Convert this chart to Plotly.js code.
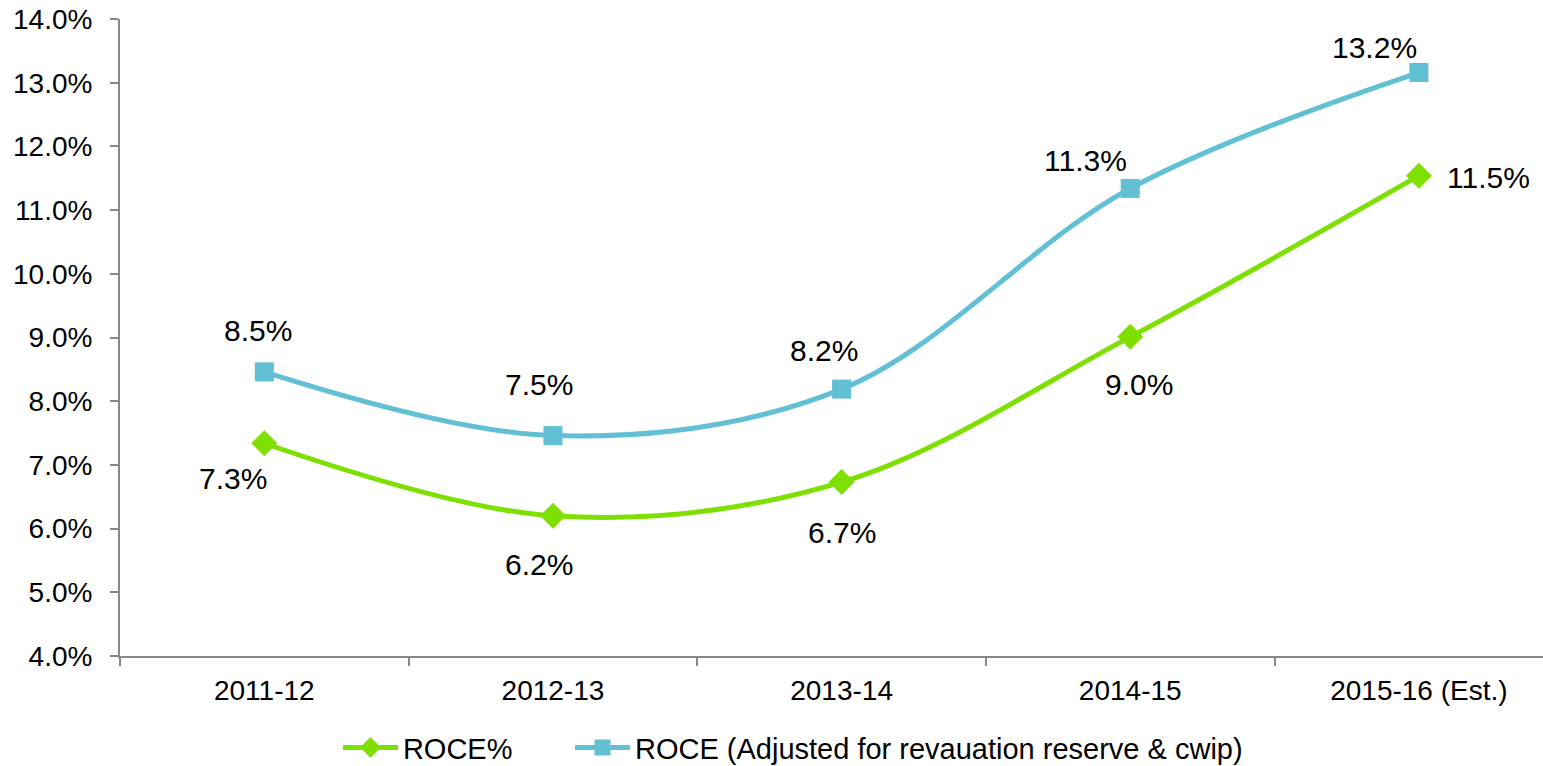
<!DOCTYPE html>
<html>
<head>
<meta charset="utf-8">
<script src="https://cdn.plot.ly/plotly-3.0.1.min.js"></script>
<style>
html,body{margin:0;padding:0;background:#fff;}
#chart{width:1543px;height:766px;}
</style>
</head>
<body>
<div id="chart"></div>
<script>
const categories = ['2011-12', '2012-13', '2013-14', '2014-15', '2015-16 (Est.)'];
const roce = [7.34, 6.20, 6.73, 9.01, 11.54];
const roceAdjusted = [8.46, 7.46, 8.19, 11.34, 13.16];
const seriesNames = ['ROCE%', 'ROCE (Adjusted for revauation reserve & cwip)'];
const yTicks = [4, 5, 6, 7, 8, 9, 10, 11, 12, 13, 14];
const yTickText = yTicks.map(v => v.toFixed(1) + '%');

// label offsets (px) relative to the point
const roceLabelShift = [[-31, -35], [-14, -49], [0, -50], [9, -48], [70, -2]];
const adjLabelShift = [[-6, 41], [-14, 51], [-18, 39], [-45, 28], [-44, 25]];

const green = '#7ee000';
const blue = '#62c0d4';
const FONT = 'Liberation Sans, Arial, sans-serif';

const traces = [
  {
    x: categories, y: roce, name: seriesNames[0], type: 'scatter', mode: 'lines+markers',
    line: {color: green, width: 5, shape: 'spline', smoothing: 1},
    marker: {symbol: 'diamond', size: 20, color: green},
    legend: 'legend'
  },
  {
    x: categories, y: roceAdjusted, name: seriesNames[1], type: 'scatter', mode: 'lines+markers',
    line: {color: blue, width: 5, shape: 'spline', smoothing: 1},
    marker: {symbol: 'square', size: 19, color: blue},
    legend: 'legend2'
  }
];

const annotations = [];
function addLabels(vals, shifts) {
  vals.forEach((v, i) => {
    annotations.push({
      x: categories[i], y: v, xref: 'x', yref: 'y',
      text: v.toFixed(1) + '%', showarrow: false,
      xshift: shifts[i][0], yshift: shifts[i][1],
      font: {family: FONT, size: 30, color: '#000'}
    });
  });
}
addLabels(roce, roceLabelShift);
addLabels(roceAdjusted, adjLabelShift);

const legendBase = {
  orientation: 'h', xref: 'container', yref: 'container',
  xanchor: 'left', y: 0.024, yanchor: 'middle',
  font: {family: FONT, size: 29, color: '#000'},
  itemwidth: 55, bgcolor: 'rgba(0,0,0,0)'
};

const layout = {
  width: 1543, height: 766,
  margin: {l: 120, r: 0, t: 19, b: 110},
  paper_bgcolor: '#fff', plot_bgcolor: '#fff',
  font: {family: FONT, size: 28, color: '#000'},
  showlegend: true,
  legend: Object.assign({}, legendBase, {x: 0.219}),
  legend2: Object.assign({}, legendBase, {x: 0.3694}),
  xaxis: {
    type: 'category', range: [-0.5, 4.43],
    showline: true, linecolor: '#888', linewidth: 2,
    ticks: 'outside', tickson: 'boundaries', ticklen: 8, tickcolor: '#888', tickwidth: 2,
    showgrid: false, zeroline: false, ticklabelstandoff: 8,
    tickfont: {family: FONT, size: 28, color: '#000'}
  },
  yaxis: {
    range: [4, 14], tickmode: 'array', tickvals: yTicks, ticktext: yTickText,
    showline: true, linecolor: '#888', linewidth: 2,
    ticks: 'outside', ticklen: 8, tickcolor: '#888', tickwidth: 2,
    showgrid: false, zeroline: false, ticklabelstandoff: 12,
    tickfont: {family: FONT, size: 28, color: '#000'}
  },
  annotations: annotations
};

Plotly.newPlot('chart', traces, layout, {displayModeBar: false, staticPlot: true});
</script>
</body>
</html>
